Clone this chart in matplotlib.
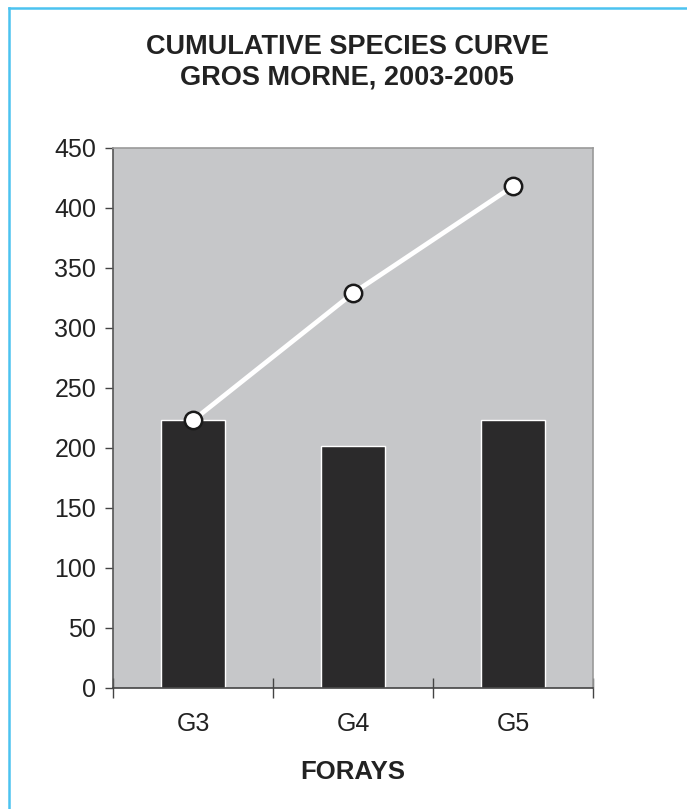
import matplotlib
matplotlib.use('Agg')
import matplotlib.pyplot as plt
from matplotlib.lines import Line2D
import numpy as np

# Chart data
forays = ['G3', 'G4', 'G5']
species_per_foray = [223, 202, 223]
cumulative_species = [223, 329, 418]
y_ticks = [0, 50, 100, 150, 200, 250, 300, 350, 400, 450]

plt.rcParams['font.family'] = ['Liberation Sans', 'DejaVu Sans']

fig = plt.figure(figsize=(6.87, 8.09), dpi=100)
ax = fig.add_axes([0.1645, 0.1496, 0.6987, 0.6675])
ax.set_facecolor('#c6c7c9')

x = np.arange(len(forays))
ax.bar(x, species_per_foray, width=0.4, color='#2b2a2b',
       edgecolor='white', linewidth=1.0, zorder=2)
ax.plot(x, cumulative_species, color='white', linewidth=3.4,
        marker='o', markersize=12.5, markerfacecolor='white',
        markeredgecolor='#1a1a1a', markeredgewidth=1.8, zorder=3,
        clip_on=False)

ax.set_xlim(-0.5, len(forays) - 0.5)
ax.set_ylim(0, 450)
ax.set_yticks(y_ticks)
ax.set_xticks(x)
ax.set_xticklabels(forays)
ax.set_xticks(np.arange(-0.5, len(forays)), minor=True)

ax.tick_params(axis='y', direction='out', length=6, width=1.0,
               color='#444444', labelsize=18, labelcolor='#222222', pad=6)
ax.tick_params(axis='x', which='major', length=0, labelsize=18,
               labelcolor='#222222', pad=17)
ax.tick_params(axis='x', which='minor', direction='inout', length=14,
               width=1.0, color='#444444')

ax.spines['left'].set_color('#555555')
ax.spines['bottom'].set_color('#444444')
ax.spines['top'].set_color('#9a9a9a')
ax.spines['right'].set_color('#9a9a9a')
for s in ax.spines.values():
    s.set_linewidth(1.2)

ax.set_xlabel('FORAYS', fontsize=18.5, fontweight='bold', color='#222222')
ax.xaxis.set_label_coords(0.5, -0.133)

fig.text(0.505, 0.9419, 'CUMULATIVE SPECIES CURVE', ha='center', va='center',
         fontsize=19.5, fontweight='bold', color='#222222')
fig.text(0.505, 0.9048, 'GROS MORNE, 2003-2005', ha='center', va='center',
         fontsize=19.5, fontweight='bold', color='#222222')

# light blue frame on top and left
fig.add_artist(Line2D([0.0125, 0.999], [0.9895, 0.9895],
                      transform=fig.transFigure, color='#4cc3f0', linewidth=1.8))
fig.add_artist(Line2D([0.0125, 0.0125], [0.0, 0.9895],
                      transform=fig.transFigure, color='#4cc3f0', linewidth=1.8))

fig.savefig('out.png', dpi=100, facecolor='white')
